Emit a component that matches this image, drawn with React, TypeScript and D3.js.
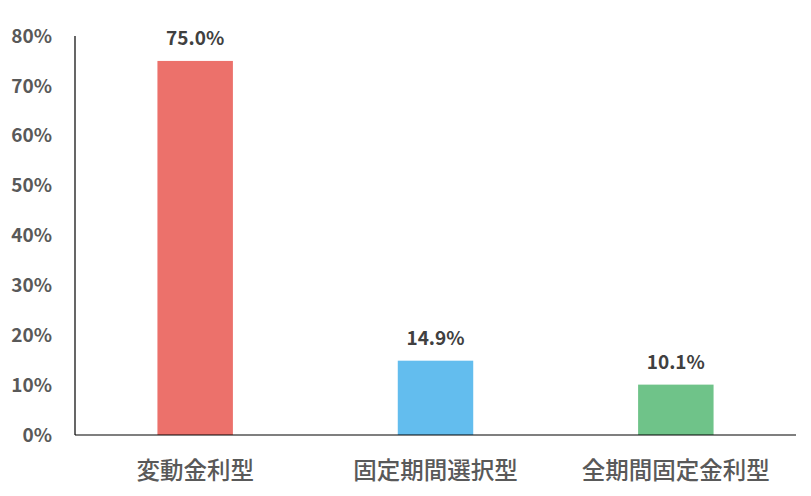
import { useEffect, useRef } from "react";
import * as d3 from "d3";

const categories = ["変動金利型", "固定期間選択型", "全期間固定金利型"];
const values = [75.0, 14.9, 10.1];
const colors = ["#EC716B", "#63BDEE", "#6FC389"];
const yTicks = [0, 10, 20, 30, 40, 50, 60, 70, 80];

export default function App() {
  const svgRef = useRef<SVGSVGElement | null>(null);
  const width = 811;
  const height = 496;
  const margin = { top: 36, right: 15, bottom: 61, left: 75 };

  useEffect(() => {
    const svg = d3.select(svgRef.current);
    svg.selectAll("*").remove();

    const font = "'Noto Sans CJK JP', 'Noto Sans', sans-serif";

    const x = d3
      .scaleBand()
      .domain(categories)
      .range([margin.left, width - margin.right])
      .paddingInner(0.686)
      .paddingOuter(0.343);

    const y = d3
      .scaleLinear()
      .domain([0, 80])
      .range([height - margin.bottom, margin.top]);

    // bars
    svg
      .selectAll(".bar")
      .data(values)
      .enter()
      .append("rect")
      .attr("class", "bar")
      .attr("x", (_, i) => x(categories[i])!)
      .attr("y", (d) => y(d))
      .attr("width", x.bandwidth())
      .attr("height", (d) => y(0) - y(d))
      .attr("fill", (_, i) => colors[i]);

    // value labels
    svg
      .selectAll(".val")
      .data(values)
      .enter()
      .append("text")
      .attr("class", "val")
      .attr("x", (_, i) => x(categories[i])! + x.bandwidth() / 2)
      .attr("y", (d) => y(d) - 16)
      .attr("text-anchor", "middle")
      .attr("font-family", font)
      .attr("font-weight", "bold")
      .attr("font-size", 19)
      .attr("fill", "#404040")
      .text((d) => d.toFixed(1) + "%");

    // y tick labels
    svg
      .selectAll(".ytick")
      .data(yTicks)
      .enter()
      .append("text")
      .attr("class", "ytick")
      .attr("x", 52)
      .attr("y", (d) => y(d))
      .attr("dy", "0.35em")
      .attr("text-anchor", "end")
      .attr("font-family", font)
      .attr("font-weight", "bold")
      .attr("font-size", 19)
      .attr("fill", "#595959")
      .text((d) => d + "%");

    // category labels
    svg
      .selectAll(".cat")
      .data(categories)
      .enter()
      .append("text")
      .attr("class", "cat")
      .attr("x", (d) => x(d)! + x.bandwidth() / 2)
      .attr("y", 471)
      .attr("dy", "0.35em")
      .attr("text-anchor", "middle")
      .attr("font-family", font)
      .attr("font-weight", 500)
      .attr("font-size", 23.5)
      .attr("fill", "#595959")
      .text((d) => d);

    // axes lines
    svg
      .append("line")
      .attr("x1", margin.left)
      .attr("x2", margin.left)
      .attr("y1", y(80))
      .attr("y2", y(0))
      .attr("stroke", "#000")
      .attr("stroke-width", 1.2);

    svg
      .append("line")
      .attr("x1", margin.left)
      .attr("x2", width - margin.right)
      .attr("y1", y(0))
      .attr("y2", y(0))
      .attr("stroke", "#000")
      .attr("stroke-width", 1.2);
  }, []);

  return (
    <svg
      ref={svgRef}
      width={width}
      height={height}
      style={{ position: "absolute", left: 0, top: 0, background: "#fff" }}
    />
  );
}
